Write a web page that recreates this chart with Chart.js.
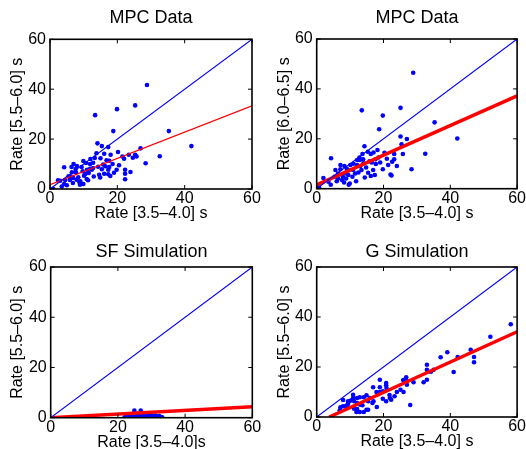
<!DOCTYPE html>
<html>
<head>
<meta charset="utf-8">
<script src="https://cdn.jsdelivr.net/npm/chart.js@4.4.1/dist/chart.umd.min.js"></script>
<style>
  html, body { margin: 0; padding: 0; background: #fff; width: 526px; height: 449px; overflow: hidden; }
  .panel { position: absolute; }
</style>
</head>
<body>
<div class="panel" style="left:0;top:0"><canvas id="c1" width="263" height="225"></canvas></div>
<div class="panel" style="left:263px;top:0"><canvas id="c2" width="263" height="225"></canvas></div>
<div class="panel" style="left:0;top:225px"><canvas id="c3" width="263" height="232"></canvas></div>
<div class="panel" style="left:263px;top:225px"><canvas id="c4" width="263" height="232"></canvas></div>
<script>
// tick values shared by all four panels
const tickValues = [0, 20, 40, 60];

// identity line y = x
const diagX = [0, 60];
const diagY = [0, 60];

// MPC data, rate [3.5-4.0] vs rate [5.5-6.0]
const mpc1X = [28.8, 13.4, 19.9, 25.3, 18.8, 35.3, 42.0, 32.6, 28.4, 26.9, 25.3, 25.7, 23.4, 21.5, 22.0, 20.2, 19.8, 22.3, 22.3, 23.9,
  22.3, 17.3, 15.4, 14.1, 13.8, 15.0, 17.6, 17.6, 17.3, 17.3, 16.1, 15.4, 14.6, 14.3, 12.8, 12.8, 11.9, 11.9, 11.5, 11.0,
  10.7, 9.9, 9.4, 9.7, 10.1, 9.9, 9.0, 8.4, 8.7, 7.7, 7.6, 7.0, 6.4, 6.5, 6.1, 5.9, 6.9, 4.5, 4.2, 4.2,
  3.0, 2.4, 1.0, 5.5, 7.9, 10.9, 16.4, 18.0, 16.1, 13.3, 12.4, 8.9, 18.6, 16.8, 13.0, 11.3, 14.9, 17.9, 20.5, 8.0,
  6.8, 5.0, 3.5, 12.0, 10.5, 19.0, 24.6, 15.8];
const mpc1Y = [41.7, 29.6, 32.0, 33.5, 23.2, 23.2, 17.2, 13.1, 10.3, 16.3, 13.7, 13.0, 13.7, 13.0, 12.1, 14.8, 7.7, 7.7, 6.1, 6.8,
  3.9, 16.8, 17.2, 18.3, 14.3, 12.3, 11.3, 8.8, 7.7, 5.9, 6.1, 7.9, 5.7, 8.9, 10.5, 8.4, 10.0, 8.1, 6.4, 7.7,
  10.4, 11.2, 8.8, 7.1, 5.3, 2.0, 3.1, 4.7, 2.8, 6.7, 8.0, 10.0, 8.8, 6.7, 5.1, 3.6, 4.4, 3.6, 8.7, 2.0,
  3.3, 3.5, 0.0, 5.1, 3.7, 4.0, 9.1, 13.7, 14.1, 12.4, 7.7, 1.7, 10.0, 11.5, 5.0, 3.5, 4.6, 5.2, 9.5, 9.2,
  2.4, 1.5, 1.0, 12.0, 6.0, 6.5, 12.5, 9.8];
const fit1X = [0, 60];
const fit1Y = [1.7, 33.3];

// MPC data, rate [3.5-4.0] vs rate [6.0-6.5]
const mpc2X = [28.9, 13.5, 25.1, 19.8, 18.7, 35.3, 42.1, 32.5, 28.4, 27.0, 25.1, 25.4, 25.8, 23.2, 23.2, 22.6, 21.4, 24.0, 22.1, 22.4,
  20.3, 19.8, 18.2, 17.6, 17.7, 16.2, 15.3, 14.3, 13.7, 13.9, 12.9, 12.1, 12.1, 11.5, 10.1, 9.6, 9.9, 9.6, 8.8, 8.8,
  8.3, 7.1, 7.1, 6.4, 6.4, 5.6, 4.3, 4.2, 5.3, 2.0, 0.7, 16.9, 17.4, 16.2, 14.4, 15.4, 13.4, 10.9, 10.7, 7.6,
  3.5, 18.5, 16.5, 14.8, 13.0, 11.0, 9.0, 12.5, 11.8, 8.2, 6.0, 15.8, 17.0, 19.0, 21.0, 14.0, 9.5, 7.8, 12.8];
const mpc2Y = [46.5, 31.4, 32.4, 29.3, 23.8, 26.6, 20.1, 14.0, 7.8, 19.9, 20.9, 17.8, 13.9, 13.9, 11.8, 10.8, 9.5, 9.1, 5.7, 5.3,
  14.4, 7.8, 15.5, 11.8, 9.9, 13.9, 14.8, 17.0, 13.9, 11.8, 11.5, 11.5, 9.5, 6.1, 9.5, 7.4, 2.1, 1.6, 6.1, 4.1,
  9.1, 9.5, 7.8, 6.1, 4.1, 7.5, 12.2, 1.6, 4.8, 4.3, 0.5, 7.5, 5.5, 5.1, 4.5, 6.4, 7.5, 7.5, 4.8, 3.5,
  2.8, 12.5, 10.5, 8.5, 9.0, 10.0, 8.0, 6.5, 3.0, 2.5, 3.0, 11.0, 14.5, 10.5, 12.0, 10.2, 5.5, 5.0, 12.5];
const fit2X = [0, 60];
const fit2Y = [1.5, 37.2];

// SF simulation
const sfX = [24.9, 26.8, 24.1, 25.6, 26.2, 27.6, 22.0, 22.6, 23.1, 23.7, 24.3, 24.8, 25.3, 25.9, 26.5, 27.0, 27.5, 28.1, 28.6, 29.2,
  29.8, 30.3, 30.9, 31.4, 32.0, 32.6, 33.2, 23.4, 24.6, 25.7, 26.9, 28.0, 29.0, 30.1, 31.2, 32.3, 27.3, 28.8, 30.5, 25.1];
const sfY = [2.8, 2.8, 1.4, 1.6, 1.2, 1.5, 0.2, 0.5, 0.1, 0.6, 0.3, 0.8, 0.2, 0.5, 0.9, 0.3, 0.6, 0.1, 0.7, 0.4,
  0.2, 0.6, 0.3, 0.5, 0.1, 0.4, 0.2, 1.0, 1.1, 0.9, 1.2, 1.0, 1.1, 0.8, 0.9, 0.7, 0.0, 0.0, 0.0, 0.0];
const fit3X = [0, 60];
const fit3Y = [0, 4.4];

// G simulation
const gX = [58.1, 52.0, 46.1, 47.1, 47.1, 42.2, 39.1, 37.1, 41.0, 33.0, 33.0, 33.0, 34.2, 35.0, 32.0, 29.0, 28.0, 26.8, 27.0, 27.0,
  25.9, 25.1, 26.0, 24.0, 23.3, 21.8, 21.9, 20.8, 20.8, 20.8, 19.8, 19.8, 18.9, 18.9, 17.9, 18.9, 18.0, 16.9, 17.0, 16.7,
  15.9, 15.4, 14.9, 14.9, 14.1, 13.7, 12.9, 13.0, 12.1, 12.1, 11.2, 11.2, 12.1, 10.9, 10.9, 10.7, 10.1, 9.4, 9.4, 7.9,
  7.9, 8.6, 9.1, 6.9, 7.1, 12.9, 14.1, 11.9, 15.4, 20.9, 22.3];
const gY = [37.1, 32.1, 26.9, 24.0, 21.9, 24.0, 25.9, 23.9, 18.0, 20.9, 18.9, 14.9, 18.1, 18.9, 13.9, 13.9, 4.8, 15.9, 14.5, 12.9,
  14.8, 10.9, 10.0, 10.0, 8.3, 8.8, 7.6, 13.6, 12.7, 6.3, 10.3, 7.3, 14.9, 11.9, 10.0, 10.0, 4.0, 11.9, 6.3, 5.6,
  7.6, 6.3, 8.7, 2.9, 7.9, 4.7, 7.9, 4.9, 7.6, 3.2, 6.3, 3.3, 5.6, 7.6, 8.9, 6.9, 6.5, 6.3, 5.3, 6.8,
  4.3, 4.3, 4.7, 2.7, 3.9, 2.0, 2.0, 2.0, 2.9, 11.6, 6.9];
const fit4X = [3.75, 60];
const fit4Y = [0, 34.1];

const FONT = "'Liberation Sans', Arial, Helvetica, sans-serif";
const BLUE = '#0000ff';
const RED = '#ff0000';

function pts(xs, ys) {
  return xs.map((x, i) => ({ x: x, y: ys[i] }));
}

// MATLAB-style box with inward ticks on all sides
const boxPlugin = {
  id: 'box',
  afterDraw(chart) {
    const { ctx, chartArea: a, scales: { x, y } } = chart;
    ctx.save();
    ctx.strokeStyle = '#000';
    ctx.lineWidth = 1;
    ctx.beginPath();
    x.ticks.forEach(t => {
      const px = x.getPixelForValue(t.value);
      ctx.moveTo(px, a.bottom); ctx.lineTo(px, a.bottom - 4);
      ctx.moveTo(px, a.top); ctx.lineTo(px, a.top + 4);
    });
    y.ticks.forEach(t => {
      const py = y.getPixelForValue(t.value);
      ctx.moveTo(a.left, py); ctx.lineTo(a.left + 4, py);
      ctx.moveTo(a.right, py); ctx.lineTo(a.right - 4, py);
    });
    ctx.stroke();
    ctx.lineWidth = 1.6;
    ctx.strokeRect(a.left, a.top, a.right - a.left, a.bottom - a.top);
    ctx.restore();
  }
};

function panel(id, o) {
  const font = { family: FONT, size: 16, weight: 'normal' };
  new Chart(document.getElementById(id), {
    type: 'scatter',
    data: {
      datasets: [
        { data: pts(diagX, diagY), showLine: true, borderColor: BLUE, borderWidth: 1.1, pointRadius: 0 },
        { data: pts(o.fitX, o.fitY), showLine: true, borderColor: RED, borderWidth: o.fitWidth, pointRadius: 0 },
        { data: pts(o.xs, o.ys), backgroundColor: BLUE, borderWidth: 0, pointRadius: 2.3 }
      ]
    },
    options: {
      responsive: false,
      animation: false,
      events: [],
      layout: { padding: { left: 0, right: o.padRight, top: 0, bottom: 0 } },
      plugins: {
        legend: { display: false },
        tooltip: { enabled: false },
        title: {
          display: true, text: o.title, color: '#000', fullSize: false,
          font: { family: FONT, size: 18, weight: 'normal' },
          padding: { top: o.titleTop, bottom: o.titleBottom }
        }
      },
      scales: {
        x: {
          min: 0, max: 60,
          afterFit: s => { s.height = o.xHeight; },
          afterBuildTicks: s => { s.ticks = tickValues.map(v => ({ value: v })); },
          grid: { display: false, drawTicks: false }, border: { display: false },
          ticks: { color: '#000', font: font, padding: 0, maxRotation: 0 },
          title: { display: true, text: o.xLabel, color: '#000', font: font, padding: { top: 0, bottom: o.xTitlePad } }
        },
        y: {
          min: 0, max: 60,
          afterFit: s => { s.width = o.yWidth; },
          afterBuildTicks: s => { s.ticks = tickValues.map(v => ({ value: v })); },
          grid: { display: false, drawTicks: false }, border: { display: false },
          ticks: { color: '#000', font: font, padding: 4 },
          title: { display: true, text: o.yLabel, color: '#000', font: font, padding: { top: o.yTitlePad, bottom: 0 } }
        }
      }
    },
    plugins: [boxPlugin]
  });
}

panel('c1', {
  title: 'MPC Data', xLabel: 'Rate [3.5\u20134.0] s', yLabel: 'Rate [5.5\u20136.0] s',
  xs: mpc1X, ys: mpc1Y, fitX: fit1X, fitY: fit1Y, fitWidth: 1.2,
  padRight: 11, titleTop: 7.2, titleBottom: 10.5, xHeight: 36, xTitlePad: 1.4, yWidth: 50, yTitlePad: 8.4
});
panel('c2', {
  title: 'MPC Data', xLabel: 'Rate [3.5\u20134.0] s', yLabel: 'Rate [6.0\u20136.5] s',
  xs: mpc2X, ys: mpc2Y, fitX: fit2X, fitY: fit2Y, fitWidth: 3.5,
  padRight: 7.7, titleTop: 7.2, titleBottom: 10.2, xHeight: 36.3, xTitlePad: 1.7, yWidth: 53.7, yTitlePad: 12.4
});
panel('c3', {
  title: 'SF Simulation', xLabel: 'Rate [3.5\u20134.0]s', yLabel: 'Rate [5.5\u20136.0] s',
  xs: sfX, ys: sfY, fitX: fit3X, fitY: fit3Y, fitWidth: 3.5,
  padRight: 10.7, titleTop: 16.2, titleBottom: 4.2, xHeight: 39.3, xTitlePad: 4.7, yWidth: 50.7, yTitlePad: 8.4
});
panel('c4', {
  title: 'G Simulation', xLabel: 'Rate [3.5\u20134.0] s', yLabel: 'Rate [5.5\u20136.0] s',
  xs: gX, ys: gY, fitX: fit4X, fitY: fit4Y, fitWidth: 3.5,
  padRight: 7.7, titleTop: 16.2, titleBottom: 4.2, xHeight: 40, xTitlePad: 5.4, yWidth: 53.7, yTitlePad: 12.4
});
</script>
</body>
</html>
